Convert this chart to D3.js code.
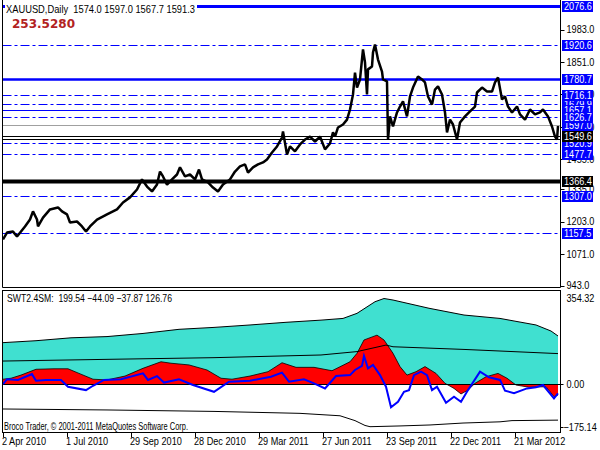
<!DOCTYPE html>
<html>
<head>
<meta charset="utf-8">
<script src="https://cdn.jsdelivr.net/npm/d3@7"></script>
<style>
  html, body { margin: 0; padding: 0; background: #fff; }
  svg { display: block; font-family: "Liberation Sans", Arial, sans-serif; }
</style>
</head>
<body>
<div id="chart"></div>
<script>
// XAUUSD daily + SWT2.4SM sub window, MT4 look

const symbolTitle = "XAUUSD,Daily";
const ohlc = [1574.0, 1597.0, 1567.7, 1591.3];
const counterValue = 253.5280;
const indName = "SWT2.4SM:";
const indLast = [199.54, -44.09, -37.87, 126.76];
const copyright = "Broco Trader, © 2001-2011 MetaQuotes Software Corp.";

const dateLabels = ["2 Apr 2010", "1 Jul 2010", "29 Sep 2010", "28 Dec 2010", "29 Mar 2011",
  "27 Jun 2011", "23 Sep 2011", "22 Dec 2011", "21 Mar 2012"];
const dateBars = [0, 64, 128, 192, 256, 320, 384, 448, 512];

const priceTicks = [1983, 1851, 1719, 1587, 1455, 1335, 1203, 1071, 943];
const indTicks = [354.32, 0, -175.14];

// horizontal levels (drawing order matters for the overlapping tags)
const levels = [2076.6, 1920.6, 1780.7, 1679.9, 1716.1, 1657.1, 1597.0, 1626.7, 1537.0,
  1520.9, 1549.6, 1477.7, 1366.4, 1307.0, 1157.5];

// price (bar index, close)
const priceBars = [0,4,10,14,22,27,30,34,35,40,47,55,59,64,67,74,79,83,87,94,104,114,120,127,134,139,144,149,154,157,
  160,164,169,174,177,182,187,192,196,199,205,210,215,220,227,232,237,242,245,250,255,260,264,269,274,279,280,284,287,292,
  297,302,307,312,317,322,327,330,332,335,340,344,347,350,352,354,357,360,362,364,365,369,370,372,375,379,380,384,385,387,
  390,394,397,400,404,407,410,415,419,422,425,429,432,435,439,442,444,447,450,454,457,462,467,472,474,479,484,489,492,495,
  499,502,505,509,514,517,522,527,532,537,540,545,549,552,554,555];
const priceClose = [1130,1158,1162,1142,1183,1211,1244,1211,1183,1219,1252,1260,1244,1232,1199,1203,1183,1162,1183,1211,1232,1252,1280,1301,1333,1374,1345,1325,1353,1406,
  1386,1353,1374,1394,1423,1386,1394,1374,1414,1374,1362,1341,1325,1353,1374,1406,1427,1435,1402,1423,1435,1443,1455,1483,1508,1544,1569,1475,1508,1488,
  1516,1536,1548,1528,1548,1496,1520,1565,1548,1585,1597,1617,1658,1719,1808,1747,1780,1902,1849,1719,1821,1833,1890,1922,1861,1812,1780,1772,1536,1630,
  1589,1646,1670,1691,1630,1711,1747,1792,1780,1768,1711,1678,1739,1752,1719,1646,1565,1617,1597,1536,1605,1630,1650,1670,1727,1747,1731,1731,1768,1788,
  1699,1711,1670,1646,1670,1638,1617,1658,1638,1646,1658,1630,1589,1548,1536,1591];

// indicator buffers
const upperBars = [0,33,68,104,140,176,211,247,283,318,340,354,372,381,390,426,461,497,533,548,555];
const upperVals = [172,180,192,197,210,227,235,245,256,265,272,293,341,354.32,348,314,286,272,245,220,199.54];

const midBars = [0,104,211,318,354,383,390,461,555];
const midVals = [96,103,110,121,135,162,155,144,126.76];

const lowerBars = [0,104,211,297,337,352,362,367,397,427,460,497,509,555];
const lowerVals = [-102,-106,-112,-120,-130,-150,-170,-175.14,-172,-168,-160,-155,-150,-148];

const redBars = [0,8,18,33,51,65,76,90,104,122,140,158,168,186,204,218,229,247,265,279,293,311,329,347,354,361,374,381,390,397,
  404,413,422,433,442,451,458,465,472,483,495,504,513,526,543,551,555];
const redVals = [21,25,38,62,64,64,45,21,18,34,66,93,87,80,59,25,21,34,52,89,70,70,56,93,128,183,203,183,128,73,
  38,52,73,45,4,-17,-40,-24,4,31,45,25,-3,-12,-10,-51,-44.09];

const blueBars = [0,4,15,29,33,43,58,65,83,90,101,118,140,145,154,161,176,190,211,226,247,268,279,286,301,311,322,333,347,352,
  359,361,365,370,377,383,388,395,401,406,411,418,424,429,434,443,451,458,465,477,486,497,502,511,524,533,540,551,555];
const blueVals = [1,21,18,42,15,18,18,-10,-24,-6,18,21,45,18,34,7,21,-3,-31,11,15,31,48,11,21,4,-17,34,38,59,
  76,117,66,80,38,-10,-95,-72,-31,-24,38,52,38,-24,-10,-76,-51,-72,-24,52,29,18,-26,-37,-17,-12,-3,-58,-37.87];

//***************************************************
const width = 600, height = 450;
const left = 2.5, axisX = 560.5;
const top1 = 0, bottom1 = 287.5, top2 = 290.5, bottom2 = 432.5;
const squeezeK = 0.83; // MT4 uses a narrow bitmap font

const x = d3.scaleLinear().domain([0, 555]).range([3, 558]);
const y = d3.scaleLinear().domain([943, 1983]).range([285.5, 29.5]);
const yi = d3.scaleLinear().domain([-175.14, 354.32]).range([426.7, 298.5]);

const BLUE = "#0000ff";
const dashdot = "9,3,3,3";
const levelLook = {
  2076.6: { c: BLUE, w: 3 },
  1920.6: { c: BLUE, w: 1, dash: dashdot },
  1780.7: { c: BLUE, w: 2.5 },
  1716.1: { c: BLUE, w: 1, dash: dashdot },
  1679.9: { c: BLUE, w: 1, dash: dashdot },
  1657.1: { c: BLUE, w: 1 },
  1626.7: { c: BLUE, w: 1, dash: dashdot },
  1597.0: { c: "#a0a0a0", w: 1, tag: BLUE },
  1537.0: { c: "#000", w: 1, noTag: true },
  1520.9: { c: BLUE, w: 1, dash: dashdot },
  1549.6: { c: "#000", w: 1 },
  1477.7: { c: BLUE, w: 1, dash: dashdot },
  1366.4: { c: "#000", w: 4 },
  1307.0: { c: BLUE, w: 1, dash: dashdot },
  1157.5: { c: BLUE, w: 1, dash: dashdot }
};
const look = v => levelLook[v];

const zip = (a, b) => a.map((d, i) => [d, b[i]]);

// squash text horizontally, either by a factor or to a fixed width
function squeeze(sel, k, target) {
  sel.each(function () {
    const w = this.getComputedTextLength();
    d3.select(this)
      .attr("textLength", target || w * k)
      .attr("lengthAdjust", "spacingAndGlyphs");
  });
}

const svg = d3.select("#chart").append("svg")
  .attr("width", width).attr("height", height)
  .attr("viewBox", [0, 0, width, height]);

svg.append("rect").attr("width", width).attr("height", height).attr("fill", "#fff");

const defs = svg.append("defs");
defs.append("clipPath").attr("id", "clip1").append("rect")
  .attr("x", left).attr("y", top1).attr("width", axisX - left).attr("height", bottom1 - top1);
defs.append("clipPath").attr("id", "clip2").append("rect")
  .attr("x", left).attr("y", top2).attr("width", axisX - left).attr("height", bottom2 - top2);

// ---------- top panel ----------
const p1 = svg.append("g").attr("clip-path", "url(#clip1)");

p1.append("g").selectAll("line")
  .data(levels)
  .join("line")
  .attr("x1", left).attr("x2", axisX)
  .attr("y1", d => Math.round(y(d)) + 0.5).attr("y2", d => Math.round(y(d)) + 0.5)
  .attr("stroke", d => look(d).c)
  .attr("stroke-width", d => look(d).w)
  .attr("stroke-dasharray", d => look(d).dash || null);

p1.append("path")
  .datum(zip(priceBars, priceClose))
  .attr("fill", "none")
  .attr("stroke", "#000")
  .attr("stroke-width", 2.5)
  .attr("stroke-linejoin", "bevel")
  .attr("d", d3.line().x(d => x(d[0])).y(d => y(d[1])));

// frame
svg.append("path")
  .attr("d", `M${left},${top1}V${bottom1}H${axisX}V${top1}`)
  .attr("fill", "none").attr("stroke", "#000");

// price scale ticks
const yAxis = svg.append("g").attr("font-size", 11);
yAxis.selectAll("line").data(priceTicks).join("line")
  .attr("x1", axisX).attr("x2", axisX + 4)
  .attr("y1", d => Math.round(y(d)) + 0.5).attr("y2", d => Math.round(y(d)) + 0.5)
  .attr("stroke", "#000");
yAxis.selectAll("text").data(priceTicks).join("text")
  .attr("x", axisX + 6).attr("y", d => y(d)).attr("dy", "0.35em")
  .attr("fill", "#000")
  .text(d3.format(".1f"))
  .call(squeeze, squeezeK);

// level tags
const tags = svg.append("g").attr("font-size", 11)
  .selectAll("g").data(levels.filter(d => !look(d).noTag)).join("g")
  .attr("transform", d => `translate(${axisX + 1.5},${Math.round(y(d)) - 5})`);
tags.append("rect")
  .attr("width", 31).attr("height", 11)
  .attr("fill", d => look(d).tag || (look(d).c === "#000" ? "#000" : BLUE));
tags.append("text")
  .attr("x", 2).attr("y", 5.5).attr("dy", "0.36em")
  .attr("fill", "#fff")
  .text(d3.format(".1f"))
  .call(squeeze, squeezeK);

// title
const title = svg.append("g").attr("font-size", 11);
title.append("text")
  .attr("x", 6).attr("y", 13)
  .attr("fill", "#000")
  .attr("xml:space", "preserve")
  .text(`${symbolTitle}  ${ohlc.map(d3.format(".1f")).join(" ")}`)
  .call(squeeze, 0, 189);
title.insert("rect", "text")
  .attr("x", 5).attr("y", 2).attr("width", 192).attr("height", 13)
  .attr("fill", "#fff");

svg.append("text")
  .attr("x", 12).attr("y", 28)
  .attr("font-family", "'DejaVu Sans', sans-serif")
  .attr("font-weight", "bold")
  .attr("font-size", 12)
  .attr("fill", "#b22222")
  .text(d3.format(".4f")(counterValue));

// ---------- indicator panel ----------
const p2 = svg.append("g").attr("clip-path", "url(#clip2)");

p2.append("path")
  .datum(zip(upperBars, upperVals))
  .attr("fill", "#40e0d0")
  .attr("d", d3.area().x(d => x(d[0])).y0(yi(0)).y1(d => yi(d[1])));
p2.append("path")
  .datum(zip(upperBars, upperVals))
  .attr("fill", "none").attr("stroke", "#000")
  .attr("d", d3.line().x(d => x(d[0])).y(d => yi(d[1])));

p2.append("path")
  .datum(zip(redBars, redVals))
  .attr("fill", "#ff0000")
  .attr("d", d3.area().x(d => x(d[0])).y0(yi(0)).y1(d => yi(d[1])));
p2.append("path")
  .datum(zip(redBars, redVals))
  .attr("fill", "none").attr("stroke", "#000").attr("stroke-width", 0.8)
  .attr("d", d3.line().x(d => x(d[0])).y(d => yi(d[1])));

p2.append("line")
  .attr("x1", left).attr("x2", axisX)
  .attr("y1", Math.round(yi(0)) + 0.5).attr("y2", Math.round(yi(0)) + 0.5)
  .attr("stroke", "#000");

p2.append("path")
  .datum(zip(midBars, midVals))
  .attr("fill", "none").attr("stroke", "#000")
  .attr("d", d3.line().x(d => x(d[0])).y(d => yi(d[1])));

p2.append("path")
  .datum(zip(lowerBars, lowerVals))
  .attr("fill", "none").attr("stroke", "#000")
  .attr("d", d3.line().x(d => x(d[0])).y(d => yi(d[1])));

p2.append("path")
  .datum(zip(blueBars, blueVals))
  .attr("fill", "none").attr("stroke", BLUE).attr("stroke-width", 2)
  .attr("d", d3.line().x(d => x(d[0])).y(d => yi(d[1])));

svg.append("rect")
  .attr("x", left).attr("y", top2)
  .attr("width", axisX - left).attr("height", bottom2 - top2)
  .attr("fill", "none").attr("stroke", "#000");

svg.append("text")
  .attr("x", 7).attr("y", 302).attr("font-size", 11).attr("fill", "#000")
  .attr("xml:space", "preserve")
  .text(`${indName}  ${indLast.map(d3.format(".2f")).join(" ")}`)
  .call(squeeze, 0, 165);

svg.append("text")
  .attr("x", 4).attr("y", 430).attr("font-size", 11).attr("fill", "#000")
  .text(copyright)
  .call(squeeze, 0, 184);

const iAxis = svg.append("g").attr("font-size", 11);
iAxis.selectAll("line").data(indTicks.slice(1)).join("line")
  .attr("x1", axisX).attr("x2", axisX + 3)
  .attr("y1", d => Math.round(yi(d)) + 0.5).attr("y2", d => Math.round(yi(d)) + 0.5)
  .attr("stroke", "#000");
iAxis.selectAll("text").data(indTicks).join("text")
  .attr("x", (d, i) => axisX + (i === 2 ? 3 : 6))
  .attr("y", d => yi(d)).attr("dy", "0.35em")
  .attr("fill", "#000")
  .text(d3.format(".2f"))
  .call(squeeze, squeezeK);

// ---------- time axis ----------
const xAxis = svg.append("g").attr("font-size", 11);
xAxis.selectAll("line").data(dateBars).join("line")
  .attr("x1", d => Math.round(x(d)) + 0.5).attr("x2", d => Math.round(x(d)) + 0.5)
  .attr("y1", bottom2).attr("y2", bottom2 + 5)
  .attr("stroke", "#000");
xAxis.selectAll("text").data(dateLabels).join("text")
  .attr("x", (d, i) => x(dateBars[i]) - 1)
  .attr("y", 445)
  .attr("fill", "#000")
  .text(d => d)
  .call(squeeze, squeezeK);
</script>
</body>
</html>
